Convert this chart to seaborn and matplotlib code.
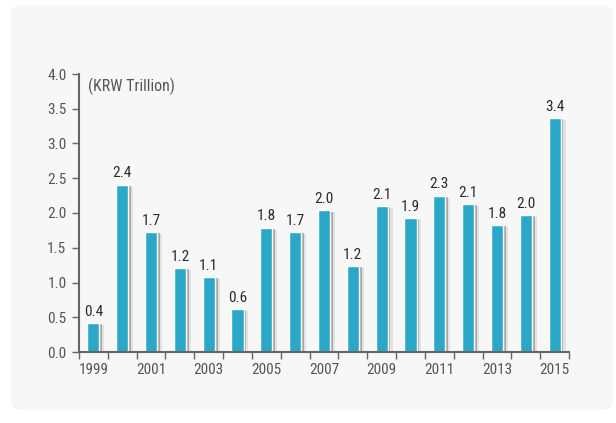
import matplotlib
matplotlib.use("Agg")
import matplotlib.pyplot as plt
import matplotlib.patheffects as pe
from matplotlib.patches import FancyBboxPatch
from matplotlib import font_manager
import seaborn as sns
import pandas as pd
import numpy as np

# data
years = [str(y) for y in range(1999, 2016)]
values = [0.42, 2.41, 1.73, 1.21, 1.08, 0.62, 1.79, 1.73, 2.04, 1.24, 2.10, 1.93, 2.25, 2.13, 1.83, 1.97, 3.37]
labels = ["0.4", "2.4", "1.7", "1.2", "1.1", "0.6", "1.8", "1.7", "2.0", "1.2",
          "2.1", "1.9", "2.3", "2.1", "1.8", "2.0", "3.4"]
unit_text = "(KRW Trillion)"

sns.set_style("white")
names = {f.name for f in font_manager.fontManager.ttflist}
narrow = [n for n in ['Roboto Condensed', 'Liberation Sans Narrow', 'DejaVu Sans Condensed'] if n in names]
plt.rcParams['font.family'] = narrow + ['DejaVu Sans']
plt.rcParams['font.stretch'] = 'condensed'

df = pd.DataFrame({"year": years, "value": values})

fig = plt.figure(figsize=(6.16, 4.23), dpi=100)
fig.patch.set_facecolor("white")

# light grey rounded panel behind the chart
panel = FancyBboxPatch((11 / 616, 13 / 423), 602 / 616, 405 / 423,
                       boxstyle="round,pad=0,rounding_size=0.02",
                       transform=fig.transFigure, facecolor="#f7f7f7",
                       edgecolor="none", zorder=-10)
fig.add_artist(panel)

ax = fig.add_axes([79 / 616, 1 - 352 / 423, 490 / 616, 278 / 423])
ax.set_facecolor("none")

sns.barplot(data=df, x="year", y="value", color="#2ba8c8", saturation=1,
            width=0.42, ax=ax)

# soft drop shadow on the right side of each bar
for bar in ax.patches:
    bar.set_path_effects([
        pe.SimplePatchShadow(offset=(3.5, -1.5), shadow_rgbFace="#888888", alpha=0.18),
        pe.SimplePatchShadow(offset=(2, -1), shadow_rgbFace="#555555", alpha=0.4),
        pe.Normal()])

for i, (v, lab) in enumerate(zip(values, labels)):
    ax.text(i, v + 0.06, lab, ha="center", va="bottom", fontsize=11,
            color="#2a2a2a")

ax.set_ylim(0, 4.0)
ax.set_xlim(-0.5, len(years) - 0.5)
ax.set_yticks(np.arange(0, 4.01, 0.5))
ax.set_yticklabels([f"{t:.1f}" for t in np.arange(0, 4.01, 0.5)])

ax.set_xticks(range(len(years)))
ax.set_xticklabels([y if i % 2 == 0 else "" for i, y in enumerate(years)])
ax.set_xticks(np.arange(-0.5, len(years), 1), minor=True)
ax.tick_params(axis="x", which="both", bottom=True)
ax.tick_params(axis="y", left=True)
ax.tick_params(axis="x", which="major", length=0, pad=8, labelsize=11, labelcolor="#555555")
ax.tick_params(axis="x", which="minor", length=5, width=1, color="#666666", direction="out")
ax.tick_params(axis="y", length=5, width=1, color="#666666", direction="out",
               labelsize=11, labelcolor="#555555", pad=4)

ax.set_xlabel("")
ax.set_ylabel("")
for side in ["top", "right"]:
    ax.spines[side].set_visible(False)
for side in ["left", "bottom"]:
    ax.spines[side].set_color("#666666")
    ax.spines[side].set_linewidth(1.5)

ax.text(0.018, 0.985, unit_text, transform=ax.transAxes, ha="left", va="top",
        fontsize=11.5, color="#555555")

fig.savefig("out.png", dpi=100)
